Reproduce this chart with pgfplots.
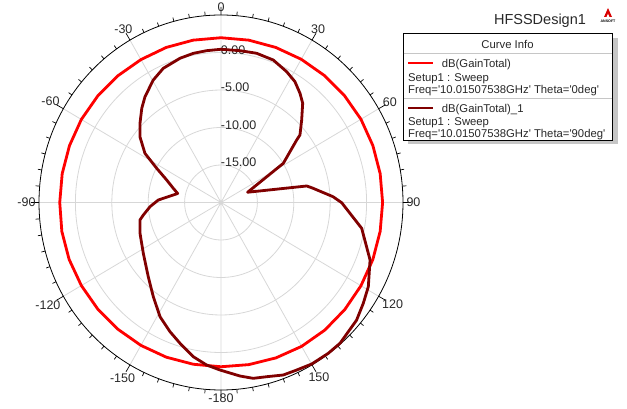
\documentclass[border=0pt]{standalone}
\usepackage{pgfplots}
\pgfplotsset{compat=1.18}
\usepackage{pgfplotstable}
\usepgfplotslibrary{polar}
\usepackage{fontspec}
\setmainfont{Liberation Sans}
\definecolor{maroonc}{RGB}{128,0,0}
\definecolor{gridc}{RGB}{215,215,215}
\definecolor{txt}{RGB}{40,40,40}
\newcommand\q{\textquotesingle}
\tikzset{ylabelstyle/.style={anchor=base west, inner sep=0pt, xshift=-0.3pt, yshift=-1.8pt,
        font=\fontsize{12.5}{14}\selectfont, text=txt}}

% Theta (deg, clockwise from top) and dB(GainTotal)
\pgfplotstableread{
theta db
0 1.97
10 1.98
20 2.00
30 2.05
40 2.10
50 2.15
60 2.20
70 2.20
80 2.20
90 2.20
100 2.20
110 2.20
120 2.20
130 2.20
140 2.20
150 2.15
160 2.05
170 1.95
180 1.90
190 1.90
200 1.95
210 2.00
220 2.05
230 2.10
240 2.15
250 2.20
260 2.20
270 2.15
280 2.15
290 2.15
300 2.15
310 2.10
320 2.05
330 2.00
340 2.00
350 1.98
360 1.97
}\gainA

\pgfplotstableread{
theta db
0 0.43
7.4 0.41
13.8 0.49
20.7 0.31
27.3 -0.36
32.2 -0.95
36.7 -1.84
40.3 -2.65
45.2 -4.38
50.3 -5.90
51.3 -6.68
58.6 -9.97
69.5 -16.10
79.4 -8.03
81.0 -7.39
87.1 -4.60
90.1 -3.42
100.1 -0.37
110.5 1.86
119.0 3.14
124.5 3.72
130.1 4.35
138.9 4.89
143.8 4.93
149.9 4.88
155.0 4.64
159.6 4.54
164.9 4.06
169.3 3.86
173.6 3.28
180.4 2.33
185.2 1.76
190.5 0.91
196.7 -0.40
202.1 -1.40
208.8 -2.62
216.5 -4.37
225.3 -5.94
237.6 -7.36
249.7 -8.14
258.2 -8.63
261.1 -9.20
266.7 -10.23
272.2 -11.38
281.4 -13.93
286.1 -13.18
291.9 -11.96
297.3 -10.06
302.1 -7.67
308.2 -5.83
313.5 -4.66
319.1 -3.38
323.5 -2.45
330.3 -1.21
336.1 -0.43
343.7 0.04
349.2 0.25
354.5 0.34
360 0.43
}\gainB

\begin{document}
\begin{tikzpicture}
\begin{polaraxis}[
  scale only axis,
  width=364pt, height=375pt,
  xmin=0, xmax=360, ymin=0, ymax=25,
  xtick={0,30,...,330},
  xticklabels={90,60,30,0,-30,-60,-90,-120,-150,-180,150,120},
  minor x tick num=5,
  ytick={5,10,15,20},
  yticklabels={,,,},
  ytick style={draw=none},
  xtick align=inside,
  major tick length=8pt, minor tick length=4pt,
  grid=major,
  major grid style={draw=gridc, line width=0.8pt},
  separate axis lines,
  x axis line style={black, line width=0.8pt},
  y axis line style={draw=none},
  x tick style={black, line width=0.7pt},
  xticklabel style={font=\fontsize{12.5}{14}\selectfont, text=txt},
  clip=false,
]
\coordinate (O) at (axis cs:0,0);
\node[ylabelstyle] at (axis cs:90,20) {0.00};
\node[ylabelstyle] at (axis cs:90,15) {-5.00};
\node[ylabelstyle] at (axis cs:90,10) {-10.00};
\node[ylabelstyle] at (axis cs:90,5) {-15.00};
\addplot[red, line width=2.8pt, line join=round]
  table[x expr=90-\thisrow{theta}, y expr=\thisrow{db}+20] {\gainA};
\addplot[maroonc, line width=2.8pt, line join=round]
  table[x expr=90-\thisrow{theta}, y expr=\thisrow{db}+20] {\gainB};
\end{polaraxis}

\begin{scope}[shift={(O)}, x=1pt, y=1pt]
  % title and logo
  \node[font=\fontsize{14.5}{16}\selectfont, text=txt] at (319,181.5) {HFSSDesign1};
  \fill[red!85!black] (383,185.5) -- (391,185.5) -- (387,194.5) -- cycle;
  \fill[white] (385.6,185.5) -- (388.4,185.5) -- (387,188.8) -- cycle;
  \node[font=\fontsize{3.6}{4}\selectfont\bfseries, inner sep=0pt] at (387,181) {ANSOFT};
  % legend
  \fill[gray!45] (187,164.5) rectangle (397,58.5);
  \filldraw[fill=white, draw=black, line width=0.8pt] (182.3,169.2) rectangle (391,62.5);
  \draw[gray!45, line width=0.8pt] (182.7,149.2) -- (390.6,149.2);
  \draw[gray!45, line width=0.8pt] (182.7,104.2) -- (390.6,104.2);
  \begin{scope}[every node/.style={font=\fontsize{11.3}{13}\selectfont, text=txt,
      inner sep=0pt, text height=8.1pt, text depth=0pt}]
    \node at (286.5,158.5) {Curve Info};
    \draw[red, line width=1.6pt] (187,139.5) -- (211.7,139.5);
    \node[anchor=west] at (220.7,139.5) {dB(GainTotal)};
    \node[anchor=west] at (187,125.5) {Setup1 : Sweep};
    \node[anchor=west] at (187,113.5) {Freq=\q10.01507538GHz\q{} Theta=\q0deg\q};
    \draw[maroonc, line width=1.6pt] (187,94.2) -- (211.7,94.2);
    \node[anchor=west] at (220.7,94.2) {dB(GainTotal)\_1};
    \node[anchor=west] at (187,80.8) {Setup1 : Sweep};
    \node[anchor=west] at (187,69.5) {Freq=\q10.01507538GHz\q{} Theta=\q90deg\q};
  \end{scope}
  \pgfresetboundingbox
  \path[use as bounding box] (-221,202.5) rectangle (406,-206.5);
\end{scope}
\end{tikzpicture}
\end{document}
